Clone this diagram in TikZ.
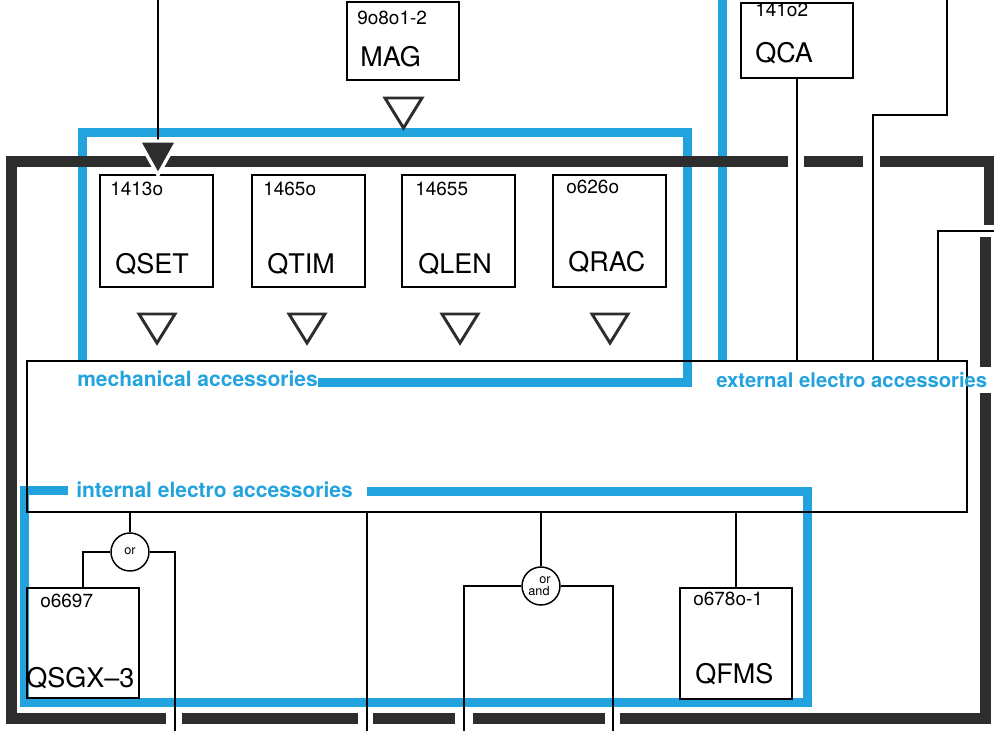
\documentclass[tikz,border=0pt]{standalone}
\usepackage{fontspec}
\setmainfont{TeX Gyre Heros}
\usetikzlibrary{calc}
\definecolor{bl}{RGB}{35,163,222}
\definecolor{dk}{RGB}{45,45,45}
\begin{document}
\begin{tikzpicture}[x=0.75pt,y=-0.75pt,
 bus/.style={dk,line width=8.25pt},
 blu/.style={bl,line width=6.75pt},
 wire/.style={black,line width=1.1pt},
 box/.style={draw=black,line width=1.5pt,inner sep=0pt,outer sep=0pt,anchor=north west,minimum width=84.75pt,minimum height=84pt},
 num/.style={anchor=base west,inner sep=0pt,font=\fontsize{14.25pt}{16pt}\selectfont},
 lab/.style={anchor=base west,inner sep=0pt,font=\fontsize{20.25pt}{22pt}\selectfont},
 blab/.style={anchor=base west,inner sep=0pt,text=bl,font=\bfseries\fontsize{15.75pt}{18pt}\selectfont},
 tri/.style={dk,line width=2.2pt,line join=miter},
 gate/.style={circle,draw=black,line width=1.1pt,minimum size=28.5pt,inner sep=0pt,fill=white},
 gtxt/.style={inner sep=0pt,font=\fontsize{9.5pt}{10pt}\selectfont},
]
\useasboundingbox (0,0) rectangle (994,731);
\clip (0,0) rectangle (994,731);

% blue accessory groups
\draw[blu,line join=miter] (82,362) -- (82,133) -- (687,133) -- (687,382) -- (318,382);
\draw[blu] (722,0) -- (722,362);
\draw[blu,line join=miter] (68,490) -- (24,490) -- (24,702) -- (807,702) -- (807,491) -- (367,491);

% black bus frame
\draw[bus,line join=miter] (788,161) -- (11,161) -- (11,718) -- (166,718);
\draw[bus] (182,718) -- (358,718);
\draw[bus] (373,718) -- (455,718);
\draw[bus] (473,718) -- (605,718);
\draw[bus,line join=miter] (620,718) -- (985,718) -- (985,393);
\draw[bus] (985,367) -- (985,237);
\draw[bus,line join=miter] (880,161) -- (989,161) -- (989,225);
\draw[bus] (804,161) -- (863,161);

% boxes
\node[box,minimum width=84pt,minimum height=58.5pt] (mag) at (347,2) {};
\node[box,minimum width=84pt,minimum height=56.25pt] (qca) at (741,3) {};
\node[box] (qset) at (100,175) {};
\node[box] (qtim) at (252,175) {};
\node[box] (qlen) at (402,175) {};
\node[box] (qrac) at (553,175) {};
\node[box,minimum width=84pt,minimum height=82.5pt] (qsgx) at (27,588) {};
\node[box,minimum width=84pt,minimum height=83.25pt] (qfms) at (680,588) {};
\node[draw=black,line width=1.1pt,inner sep=0pt,outer sep=0pt,anchor=north west,minimum width=705pt,minimum height=113.25pt] (ebox) at (27,361) {};

% input arrow
\coordinate (src) at (158,0);
\coordinate (arr) at (158,141);
\draw[wire] (src) -- (arr);
\filldraw[fill=dk,draw=white,line width=2.5pt,line join=miter] (139,141) -- (177,141) -- (158,175) -- cycle;

% wires
\coordinate (tr1) at (947,0);
\draw[wire] (tr1) -- (947,115) -- (873,115) -- (873,0 |- ebox.north);
\coordinate (tr2) at (994,231);
\draw[wire] (tr2) -- (938,231) -- (938,0 |- ebox.north);
\draw[wire] (qca.south) -- (qca.south |- ebox.north);

\node[gate] (g1) at (130,552) {};
\node[gate] (g2) at (541,586) {};
\node[gtxt] (g1t) at ($(g1)+(0,-1)$) {or};
\node[gtxt] (g2a) at ($(g2)+(4,-6)$) {or};
\node[gtxt] (g2b) at ($(g2)+(-2,5)$) {and};

\draw[wire] (g1.north |- ebox.south) -- (g1.north);
\draw[wire] (g1.west) -| (qsgx.north);
\coordinate (b1) at (175,731);
\draw[wire] (g1.east) -| (b1);
\coordinate (b2) at (367,731);
\draw[wire] (b2 |- ebox.south) -- (b2);
\draw[wire] (g2.north |- ebox.south) -- (g2.north);
\coordinate (b3) at (464,731);
\draw[wire] (g2.west) -| (b3);
\coordinate (b4) at (613,731);
\draw[wire] (g2.east) -| (b4);
\draw[wire] (qfms.north |- ebox.south) -- (qfms.north);

% open triangles
\foreach \x in {157,307,460,610}
  \draw[tri] (\x-18,314) -- (\x+18,314) -- (\x,343) -- cycle;
\draw[tri] (385,98) -- (422,98) -- (403.5,128) -- cycle;

% texts
\node[num] (magn) at (357,25) {9o8o1-2};
\node[lab] (magl) at (360,67) {MAG};
\node[num] (qcan) at (755,17) {141o2};
\node[lab] (qcal) at (755,63) {QCA};
\node[num] (qsetn) at (110,195) {1413o};
\node[lab] (qsetl) at (115,273) {QSET};
\node[num] (qtimn) at (263,195) {1465o};
\node[lab] (qtiml) at (267,273) {QTIM};
\node[num] (qlenn) at (415,195) {14655};
\node[lab] (qlenl) at (418,273) {QLEN};
\node[num] (qracn) at (566,193) {o626o};
\node[lab] (qracl) at (568,271) {QRAC};
\node[num] (qsgxn) at (40,607) {o6697};
\node[lab] (qsgxl) at (26,687) {QSGX\textendash 3};
\node[num] (qfmsn) at (693,605) {o678o-1};
\node[lab] (qfmsl) at (695,683) {QFMS};

\node[blab] (tmech) at (77,386) {mechanical accessories};
\node[blab] (tint) at (76,497) {internal electro accessories};
\node[blab,font=\bfseries\fontsize{15.2pt}{18pt}\selectfont] (text) at (716,387) {external electro accessories};
\end{tikzpicture}
\end{document}
